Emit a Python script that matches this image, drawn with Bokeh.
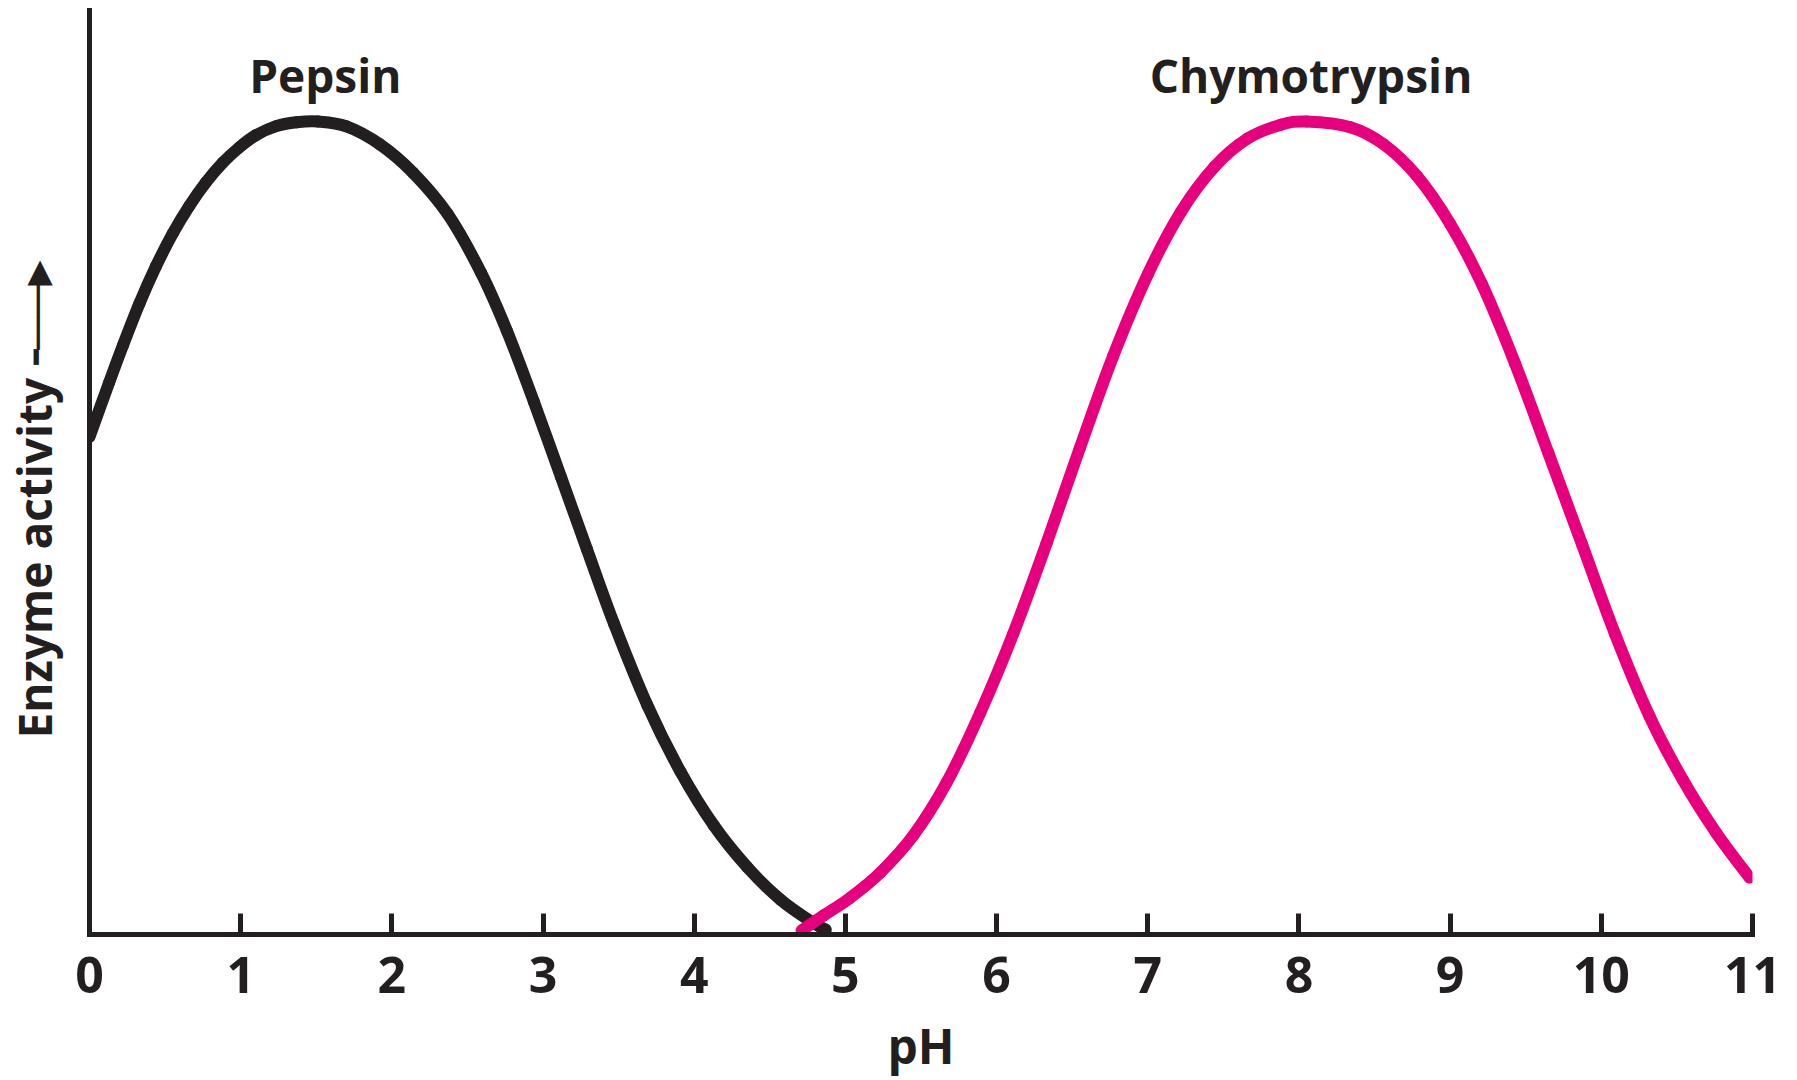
from bokeh.plotting import figure
from bokeh.models import Range1d, FixedTicker, Label, Title
from bokeh.embed import file_html
from bokeh.resources import INLINE

# ---- data ----
pepsin_ph = [0.0, 0.13, 0.22, 0.33, 0.44, 0.55, 0.66, 0.77, 0.88, 0.99, 1.10, 1.23,
             1.37, 1.51, 1.70, 1.92, 2.14, 2.37, 2.59, 2.76, 2.94, 3.12, 3.29, 3.47,
             3.69, 3.91, 4.13, 4.35, 4.57, 4.79, 4.87]
pepsin_activity = [0.612, 0.679, 0.724, 0.776, 0.822, 0.862, 0.896, 0.925, 0.949, 0.968,
                   0.983, 0.994, 0.999, 1.0, 0.994, 0.972, 0.937, 0.886, 0.814, 0.743,
                   0.655, 0.562, 0.474, 0.382, 0.282, 0.200, 0.134, 0.083, 0.043, 0.014,
                   0.006]

chymo_ph = [4.71, 4.86, 5.03, 5.23, 5.45, 5.67, 5.89, 6.11, 6.33, 6.55, 6.77, 7.00, 7.22,
            7.44, 7.66, 7.88, 8.05, 8.34, 8.56, 8.78, 9.00, 9.21, 9.43, 9.65, 9.87,
            10.09, 10.32, 10.54, 10.76, 10.98]
chymo_activity = [0.005, 0.024, 0.045, 0.076, 0.122, 0.187, 0.272, 0.370, 0.481, 0.598,
                  0.711, 0.812, 0.889, 0.944, 0.979, 0.996, 1.0, 0.993, 0.972, 0.933,
                  0.874, 0.800, 0.702, 0.592, 0.481, 0.370, 0.268, 0.190, 0.125, 0.070]

x_ticks = list(range(0, 12))
enzyme_names = ["Pepsin", "Chymotrypsin"]
enzyme_label_ph = [1.56, 8.08]
y_title = "Enzyme activity\u2576\u2500\u2500\u25B8"
x_title = "pH"

# ---- styles ----
INK = "#231F20"
PINK = "#E6007E"
FONT = "Open Sans"


def smooth_segments(xs, ys):
    """Cubic Bezier segments (Catmull-Rom style) passing through the given points."""
    n = len(xs)
    seg = dict(x0=[], y0=[], x1=[], y1=[], cx0=[], cy0=[], cx1=[], cy1=[])
    for i in range(n - 1):
        a = max(i - 1, 0)
        d = min(i + 2, n - 1)
        seg["x0"].append(xs[i]); seg["y0"].append(ys[i])
        seg["x1"].append(xs[i + 1]); seg["y1"].append(ys[i + 1])
        seg["cx0"].append(xs[i] + (xs[i + 1] - xs[a]) / 6.0)
        seg["cy0"].append(ys[i] + (ys[i + 1] - ys[a]) / 6.0)
        seg["cx1"].append(xs[i + 1] - (xs[d] - xs[i]) / 6.0)
        seg["cy1"].append(ys[i + 1] - (ys[d] - ys[i]) / 6.0)
    return seg


p = figure(width=1797, height=1080,
           x_range=Range1d(0, 11), y_range=Range1d(0, 1.1365),
           output_backend="svg", toolbar_location=None,
           min_border_left=89, min_border_right=45,
           min_border_top=10, min_border_bottom=146)

p.outline_line_color = None
p.xgrid.visible = False
p.ygrid.visible = False
p.background_fill_color = "white"
p.border_fill_color = "white"

# x axis
xa = p.xaxis[0]
xa.ticker = FixedTicker(ticks=x_ticks)
xa.minor_tick_line_color = None
xa.major_tick_in = 21
xa.major_tick_out = 0
xa.major_tick_line_width = 5
xa.major_tick_line_color = INK
xa.axis_line_width = 5
xa.axis_line_color = INK
xa.axis_line_cap = "square"
xa.major_label_text_font = FONT
xa.major_label_text_font_style = "bold"
xa.major_label_text_font_size = "50px"
xa.major_label_text_color = INK
xa.major_label_standoff = 22
xa.axis_label = x_title
xa.axis_label_text_font = FONT
xa.axis_label_text_font_style = "bold"
xa.axis_label_text_font_size = "48px"
xa.axis_label_text_color = INK
xa.axis_label_standoff = 17

# y axis (line only; a blank label keeps a small gap before the side title)
ya = p.yaxis[0]
ya.ticker = FixedTicker(ticks=[])
ya.minor_tick_line_color = None
ya.major_tick_line_color = None
ya.major_tick_in = 0
ya.major_tick_out = 0
ya.minor_tick_in = 0
ya.minor_tick_out = 0
ya.major_label_standoff = 0
ya.major_label_text_font_size = "0px"
ya.axis_label = "\u00A0"
ya.axis_label_text_font_size = "2px"
ya.axis_label_standoff = 20
ya.axis_line_width = 5
ya.axis_line_color = INK
ya.axis_line_cap = "square"

# y axis title (with arrow) on the left side
p.add_layout(Title(text=y_title, align="left", offset=196, standoff=0,
                   vertical_align="bottom",
                   text_font=FONT, text_font_style="bold", text_font_size="46px",
                   text_color=INK), "left")

# curves
p.bezier(line_color=INK, line_width=12, line_cap="round",
         **smooth_segments(pepsin_ph, pepsin_activity))
p.bezier(line_color=PINK, line_width=12, line_cap="round",
         **smooth_segments(chymo_ph, chymo_activity))

# enzyme names
for name, xpos in zip(enzyme_names, enzyme_label_ph):
    p.add_layout(Label(x=xpos, y=1.0566, text=name, text_align="center",
                       text_baseline="alphabetic", text_font=FONT,
                       text_font_style="bold", text_font_size="46px", text_color=INK))

open("out.html", "w").write(file_html(p, INLINE))
